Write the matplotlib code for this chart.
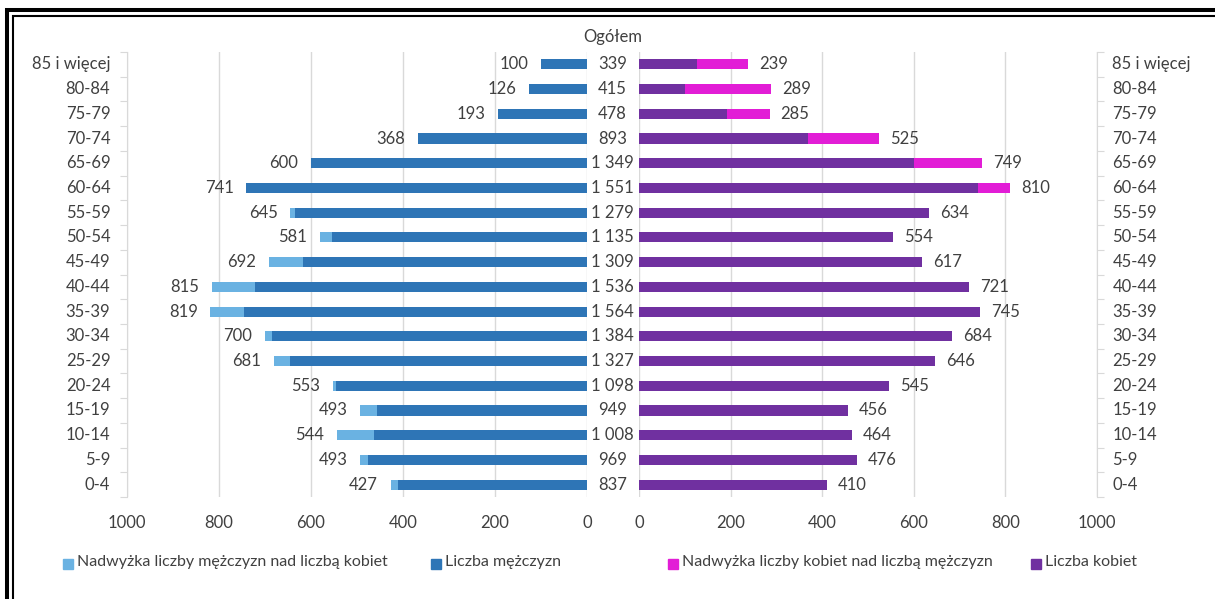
"""Piramida wieku: mężczyźni (lewo), kobiety (prawo), ogółem w środku."""

import matplotlib

matplotlib.use("Agg")
import matplotlib.pyplot as plt
import numpy as np
from matplotlib.lines import Line2D
from matplotlib.patches import Rectangle

plt.rcParams["font.family"] = ["Lato", "DejaVu Sans"]

# categories listed top -> bottom, as in the picture
AGE_GROUPS = ["85 i więcej", "80-84", "75-79", "70-74", "65-69", "60-64", "55-59",
              "50-54", "45-49", "40-44", "35-39", "30-34", "25-29", "20-24",
              "15-19", "10-14", "5-9", "0-4"]
MEN = [100, 126, 193, 368, 600, 741, 645, 581, 692, 815, 819, 700, 681, 553,
       493, 544, 493, 427]
WOMEN = [239, 289, 285, 525, 749, 810, 634, 554, 617, 721, 745, 684, 646, 545,
         456, 464, 476, 410]
TOTAL = [339, 415, 478, 893, 1349, 1551, 1279, 1135, 1309, 1536, 1564, 1384,
         1327, 1098, 949, 1008, 969, 837]
# dark (common) part of each bar as drawn; the top two purple bars are swapped
# in the source chart, kept that way here
MEN_BASE = [100, 126, 193, 368, 600, 741, 634, 554, 617, 721, 745, 684, 646, 545,
            456, 464, 476, 410]
WOMEN_BASE = [126, 100, 193, 368, 600, 741, 634, 554, 617, 721, 745, 684, 646, 545,
              456, 464, 476, 410]

C_MEN = "#2E75B6"
C_MEN_EX = "#6AB2E2"
C_WOMEN = "#7030A0"
C_WOMEN_EX = "#E21DD6"
C_TEXT = "#404040"
C_GRID = "#D9D9D9"
FS = 12
FS_LEG = 11.5

W, H = 1215, 599
fig = plt.figure(figsize=(W / 100, H / 100), dpi=100)


def fx(px):
    return px / W


def fy(py):
    return 1 - py / H


y = np.arange(len(AGE_GROUPS))[::-1]
bar_h = 0.41
ax_bottom, ax_top = fy(497), fy(52)
axl = fig.add_axes([fx(127), ax_bottom, fx(587) - fx(127), ax_top - ax_bottom])
axr = fig.add_axes([fx(639), ax_bottom, fx(1097) - fx(639), ax_top - ax_bottom])

men_ex = [m - b for m, b in zip(MEN, MEN_BASE)]
women_ex = [w - b for w, b in zip(WOMEN, WOMEN_BASE)]

axl.barh(y, MEN_BASE, height=bar_h, color=C_MEN, zorder=3)
axl.barh(y, men_ex, left=MEN_BASE, height=bar_h, color=C_MEN_EX, zorder=3)
axr.barh(y, WOMEN_BASE, height=bar_h, color=C_WOMEN, zorder=3)
axr.barh(y, women_ex, left=WOMEN_BASE, height=bar_h, color=C_WOMEN_EX, zorder=3)

for ax in (axl, axr):
    ax.set_xlim(0, 1000)
    ax.set_ylim(-0.5, len(AGE_GROUPS) - 0.5)
    ax.set_xticks(range(0, 1001, 200))
    ax.grid(axis="x", color=C_GRID, lw=1, zorder=0)
    ax.tick_params(axis="x", length=0, labelsize=FS, labelcolor=C_TEXT, pad=13)
    for s in ax.spines.values():
        s.set_visible(False)
axl.invert_xaxis()

# category axes with tick marks between groups
for ax, side in ((axl, "left"), (axr, "right")):
    ax.spines[side].set_visible(True)
    ax.spines[side].set_color(C_GRID)
    ax.set_yticks(np.arange(-0.5, len(AGE_GROUPS), 1.0))
    ax.set_yticklabels([])
    ax.tick_params(axis="y", direction="out", length=5, color=C_GRID,
                   left=(side == "left"), right=(side == "right"))

for yi, lab in zip(y, AGE_GROUPS):
    axl.annotate(lab, (1000, yi), xytext=(-12, 0), textcoords="offset points",
                 ha="right", va="center", fontsize=FS, color=C_TEXT,
                 annotation_clip=False)
    axr.annotate(lab, (1000, yi), xytext=(11, 0), textcoords="offset points",
                 ha="left", va="center", fontsize=FS, color=C_TEXT,
                 annotation_clip=False)

for yi, m, w, t in zip(y, MEN, WOMEN, TOTAL):
    axl.annotate(str(m), (m, yi), xytext=(-9, 0), textcoords="offset points",
                 ha="right", va="center", fontsize=FS, color=C_TEXT)
    axr.annotate(str(w), (w, yi), xytext=(8, 0), textcoords="offset points",
                 ha="left", va="center", fontsize=FS, color=C_TEXT)
    axl.annotate(f"{t:,}".replace(",", " "), (0, yi), xytext=(18.5, 0),
                 textcoords="offset points", ha="center", va="center",
                 fontsize=FS, color=C_TEXT, annotation_clip=False)

fig.text(fx(613), fy(37), "Ogółem", ha="center", va="center", fontsize=FS,
         color=C_TEXT)

# legend, drawn by hand to keep the original spacing
legend = [(77, C_MEN_EX, "Nadwyżka liczby mężczyzn nad liczbą kobiet"),
          (445, C_MEN, "Liczba mężczyzn"),
          (682, C_WOMEN_EX, "Nadwyżka liczby kobiet nad liczbą mężczyzn"),
          (1045, C_WOMEN, "Liczba kobiet")]
for px, col, lab in legend:
    fig.patches.append(Rectangle((fx(px - 14), fy(569)), fx(10), 10 / H,
                                 transform=fig.transFigure, color=col))
    fig.text(fx(px), fy(562), lab, ha="left", va="center", fontsize=FS_LEG,
             color=C_TEXT)

# double black frame on the left and top edges (the rest is cropped off)
for off, lw in ((7, 2.9), (13, 1.5)):
    fig.lines.append(Line2D([fx(off), fx(off), 1], [0, fy(off + 3), fy(off + 3)],
                            transform=fig.transFigure, color="black", lw=lw,
                            solid_joinstyle="miter"))

fig.savefig("out.png", dpi=100)
